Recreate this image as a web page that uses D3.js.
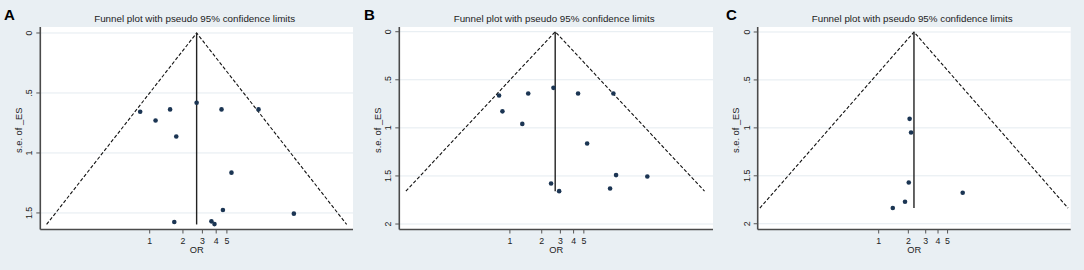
<!DOCTYPE html>
<html>
<head>
<meta charset="utf-8">
<script src="https://cdn.jsdelivr.net/npm/d3@7"></script>
<style>
	html, body { margin: 0; padding: 0; background: #e9eff3; }
	svg { display: block; font-family: "Liberation Sans", Arial, sans-serif; }
	.grid { stroke: #e4ebf0; stroke-width: 1; }
	.axis-line { stroke: #4a4a4a; stroke-width: 1.6; }
	.tick-mark { stroke: #555; stroke-width: 1; }
	.funnel { fill: none; stroke: #111; stroke-width: 1.1; stroke-dasharray: 3.5,2; }
	.pooled { stroke: #222; stroke-width: 1.4; }
	.dot { fill: #1b3553; }
</style>
</head>
<body>
<div class="container"></div>
<script>
const WIDTH = 1084
	, HEIGHT = 270
	, TOP = 27
	, BOTTOM = 229.5
	, Z = 1.96;

const panelLetters = ["A", "B", "C"];
const titleText = "Funnel plot with pseudo 95% confidence limits";
const xTitle = "OR";
const yTitle = "s.e. of _ES";
const xTicks = [1, 2, 3, 4, 5];
const yTicksA = [0, 0.5, 1, 1.5];
const yTicksBC = [0, 0.5, 1, 1.5, 2];

// odds ratios and their standard errors (log scale)
const orA = [0.82, 1.13, 1.53, 1.74, 2.66, 4.47, 9.67, 5.50, 4.60, 20.2, 1.67, 3.62, 3.86];
const seA = [0.657, 0.729, 0.637, 0.863, 0.582, 0.637, 0.637, 1.164, 1.476, 1.506, 1.576, 1.570, 1.593];
const orB = [0.79, 0.85, 1.31, 1.49, 2.58, 4.41, 9.51, 5.37, 10.08, 19.9, 2.45, 2.92, 8.85];
const seB = [0.664, 0.828, 0.959, 0.643, 0.584, 0.643, 0.643, 1.162, 1.491, 1.506, 1.579, 1.658, 1.631];
const orC = [2.06, 2.13, 2.02, 1.85, 1.39, 7.12];
const seC = [0.906, 1.049, 1.570, 1.771, 1.836, 1.677];

// pooled estimate and largest s.e. of each plot
const pooledOR = [2.66, 2.68, 2.28];
const maxSE = [1.596, 1.658, 1.837];

var panels = [
	{ letter: panelLetters[0], or: orA, se: seA, yTicks: yTicksA, pooled: pooledOR[0], maxSE: maxSE[0],
		left: 0, x0: 40.3, x1: 353, xDomain: [0.1022, 69.3], yDomain: [-0.05, 1.638] },
	{ letter: panelLetters[1], or: orB, se: seB, yTicks: yTicksBC, pooled: pooledOR[1], maxSE: maxSE[1],
		left: 360, x0: 399.3, x1: 713, xDomain: [0.0901, 83.1], yDomain: [-0.049, 2.057] },
	{ letter: panelLetters[2], or: orC, se: seC, yTicks: yTicksBC, pooled: pooledOR[2], maxSE: maxSE[2],
		left: 722, x0: 757.7, x1: 1070.7, xDomain: [0.0592, 88.8], yDomain: [-0.052, 2.06] }
];

var translate = function (x, y) {
	return "translate(" + x + "," + y + ")";
};

// Stata style labels: 0 .5 1 1.5 2
var stataFormat = function (v) {
	var s = String(v);
	return s.indexOf("0.") === 0 ? s.slice(1) : s;
};

var drawPanel = function (svg, p) {
	var xScale = d3.scaleLog().domain(p.xDomain).range([p.x0, p.x1]);
	var yScale = d3.scaleLinear().domain(p.yDomain).range([TOP, BOTTOM]);
	var g = svg.append("g");

	g.append("rect")
		.attr("x", p.x0).attr("y", TOP)
		.attr("width", p.x1 - p.x0).attr("height", BOTTOM - TOP)
		.attr("fill", "#ffffff");

	g.selectAll(".grid").data(p.yTicks).enter().append("line")
		.classed("grid", true)
		.attr("x1", p.x0).attr("x2", p.x1)
		.attr("y1", function (d) { return yScale(d); })
		.attr("y2", function (d) { return yScale(d); });

	// funnel limits
	var funnel = [
		[p.pooled * Math.exp(-Z * p.maxSE), p.maxSE],
		[p.pooled, 0],
		[p.pooled * Math.exp(Z * p.maxSE), p.maxSE]
	];
	var line = d3.line()
		.x(function (d) { return xScale(d[0]); })
		.y(function (d) { return yScale(d[1]); });
	g.append("path").classed("funnel", true).attr("d", line(funnel));

	g.append("line").classed("pooled", true)
		.attr("x1", xScale(p.pooled)).attr("x2", xScale(p.pooled))
		.attr("y1", yScale(0)).attr("y2", yScale(p.maxSE));

	g.selectAll(".dot").data(p.or).enter().append("circle")
		.classed("dot", true)
		.attr("r", 2.3)
		.attr("cx", function (d) { return xScale(d); })
		.attr("cy", function (d, i) { return yScale(p.se[i]); });

	// axes
	g.append("line").classed("axis-line", true)
		.attr("x1", p.x0).attr("x2", p.x0).attr("y1", TOP).attr("y2", BOTTOM);
	g.append("line").classed("axis-line", true)
		.attr("x1", p.x0).attr("x2", p.x1).attr("y1", BOTTOM).attr("y2", BOTTOM);

	var yt = g.selectAll(".ytick").data(p.yTicks).enter().append("g")
		.attr("transform", function (d) { return translate(p.x0, yScale(d)); });
	yt.append("line").classed("tick-mark", true).attr("x1", -4).attr("x2", 0);
	yt.append("text")
		.attr("transform", "translate(-8,0) rotate(-90)")
		.attr("text-anchor", "middle")
		.attr("font-size", 8.8)
		.attr("fill", "#222")
		.text(stataFormat);

	var xt = g.selectAll(".xtick").data(xTicks).enter().append("g")
		.attr("transform", function (d) { return translate(xScale(d), BOTTOM); });
	xt.append("line").classed("tick-mark", true).attr("y1", 0).attr("y2", 4);
	xt.append("text")
		.attr("y", 14)
		.attr("text-anchor", "middle")
		.attr("font-size", 8.8)
		.attr("fill", "#222")
		.text(function (d) { return d; });

	var cx = (p.x0 + p.x1) / 2;
	g.append("text")
		.attr("x", cx).attr("y", 252.5)
		.attr("text-anchor", "middle")
		.attr("font-size", 9.3)
		.attr("fill", "#222")
		.text(xTitle);

	g.append("text")
		.attr("transform", translate(p.x0 - 18.5, (TOP + BOTTOM) / 2 + 2) + " rotate(-90)")
		.attr("text-anchor", "middle")
		.attr("font-size", 9.3)
		.attr("fill", "#222")
		.text(yTitle);

	g.append("text")
		.attr("x", cx - 2).attr("y", 21.8)
		.attr("text-anchor", "middle")
		.attr("font-size", 9.8)
		.attr("fill", "#222")
		.text(titleText);

	g.append("text")
		.attr("x", p.left + 4).attr("y", 19.5)
		.attr("font-size", 15)
		.attr("font-weight", "bold")
		.attr("fill", "#000")
		.text(p.letter);
};

var createChart = function () {
	var svg = d3.select(".container").append("svg")
		.attr("width", WIDTH)
		.attr("height", HEIGHT);
	svg.append("rect")
		.attr("width", WIDTH).attr("height", HEIGHT)
		.attr("fill", "#e9eff3");
	panels.forEach(function (p) { drawPanel(svg, p); });
};

createChart();
</script>
</body>
</html>
